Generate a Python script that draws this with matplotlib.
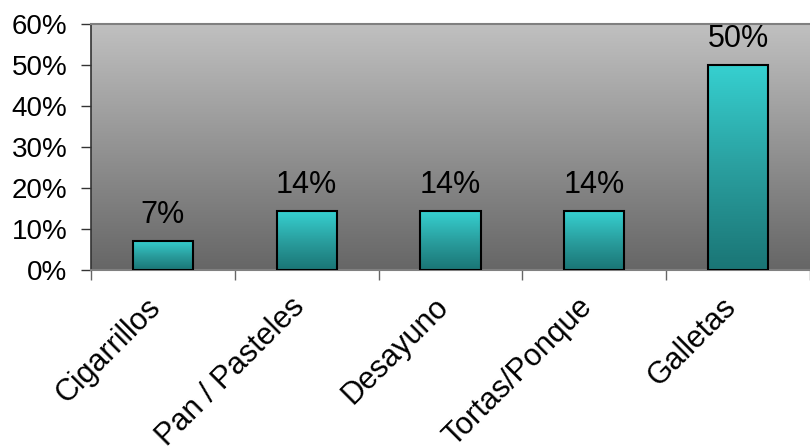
import numpy as np
import matplotlib
matplotlib.use("Agg")
import matplotlib.pyplot as plt
import matplotlib.transforms as mtransforms
from matplotlib.colors import LinearSegmentedColormap
from matplotlib.ticker import FixedLocator, PercentFormatter

categories = ["Cigarrillos", "Pan / Pasteles", "Desayuno", "Tortas/Ponque", "Galletas"]
values = [7.14, 14.29, 14.29, 14.29, 50.0]
labels = ["7%", "14%", "14%", "14%", "50%"]
yticks = [0, 10, 20, 30, 40, 50, 60]

plt.rcParams["font.family"] = ["Liberation Sans", "DejaVu Sans"]

fig = plt.figure(figsize=(8.10, 4.46), dpi=100)
ax = fig.add_axes([91 / 810, 1 - 270 / 446, 1 - 91 / 810, (270 - 24) / 446])

n = len(categories)
x = np.arange(n)

# gray vertical gradient background
bg = LinearSegmentedColormap.from_list("bg", ["#666666", "#c0c0c0"])
grad = np.linspace(0, 1, 256).reshape(-1, 1)
ax.imshow(grad, cmap=bg, origin="lower", aspect="auto",
          extent=(-0.5, n - 0.5, 0, 60), zorder=0)

# teal gradient bars
teal = LinearSegmentedColormap.from_list("teal", ["#1a7575", "#2a9f9f", "#36d0d0"])
bars = ax.bar(x, values, width=0.42, facecolor="none", edgecolor="black",
              linewidth=1.5, zorder=3)
for b in bars:
    x0, y0 = b.get_x(), b.get_y()
    w, h = b.get_width(), b.get_height()
    im = ax.imshow(grad, cmap=teal, origin="lower", aspect="auto",
                   extent=(x0, x0 + w, y0, y0 + h), zorder=2)
    im.set_clip_path(b)

ax.set_xlim(-0.5, n - 0.5)
ax.set_ylim(0, 60)

for xi, v, lab in zip(x, values, labels):
    ax.annotate(lab, (xi, v), xytext=(0, 8), textcoords="offset points",
                ha="center", va="bottom", fontsize=22, color="black")

ax.yaxis.set_major_locator(FixedLocator(yticks))
ax.yaxis.set_major_formatter(PercentFormatter(decimals=0))
ax.tick_params(axis="y", labelsize=20, length=7, width=1, color="#333333", pad=10)

ax.set_xticks(x)
ax.set_xticklabels(categories, rotation=45, ha="right", va="top",
                   rotation_mode="anchor", fontsize=22)
ax.tick_params(axis="x", which="major", length=0, pad=16)
shift = mtransforms.ScaledTranslation(-17 / 100, 0, fig.dpi_scale_trans)
for t in ax.get_xticklabels():
    t.set_transform(t.get_transform() + shift)
ax.set_xticks(np.arange(n + 1) - 0.5, minor=True)
ax.tick_params(axis="x", which="minor", length=7, width=1, color="#666666")

for side in ["top", "bottom"]:
    ax.spines[side].set_color("#808080")
    ax.spines[side].set_linewidth(1.5)
ax.spines["left"].set_color("#333333")
ax.spines["left"].set_linewidth(1.2)
ax.spines["right"].set_visible(False)

fig.savefig("out.png", dpi=100)
